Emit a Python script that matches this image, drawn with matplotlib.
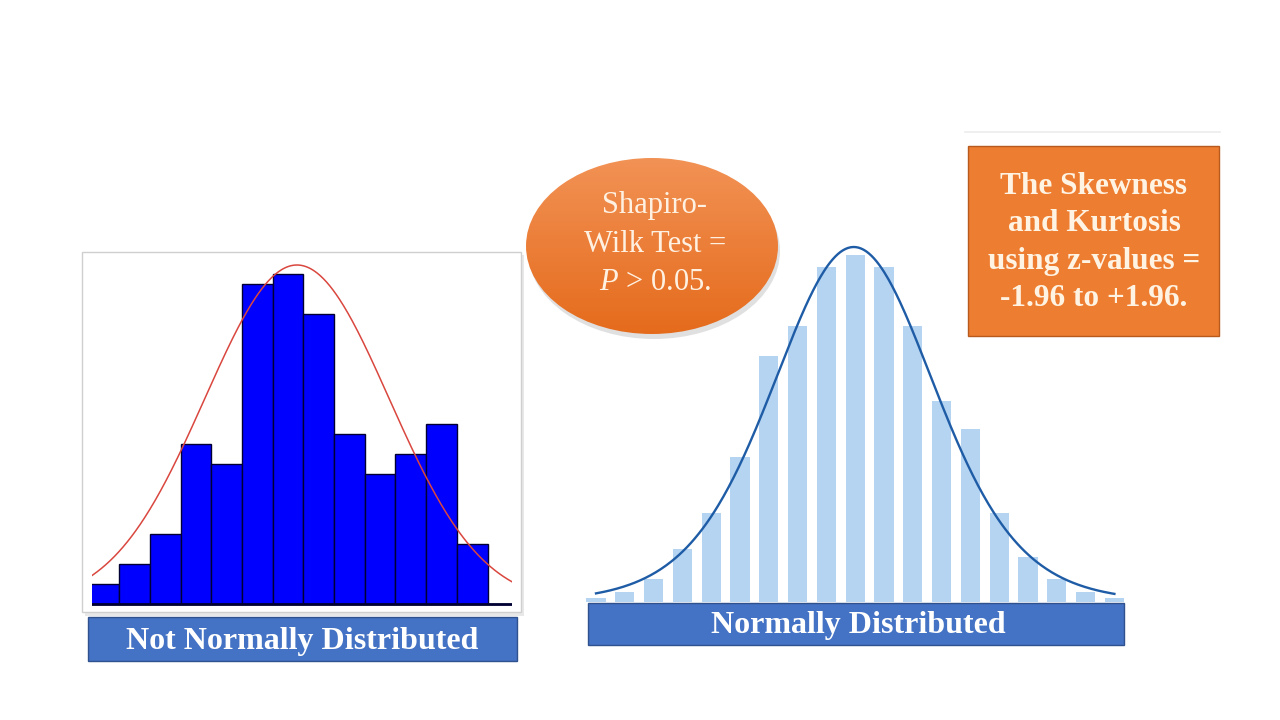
import numpy as np
import matplotlib
matplotlib.use("Agg")
import matplotlib.pyplot as plt
from matplotlib.patches import Rectangle, Ellipse

plt.rcParams['font.family'] = ['Liberation Serif', 'DejaVu Serif']
plt.rcParams['mathtext.fontset'] = 'custom'
plt.rcParams['mathtext.rm'] = 'Liberation Serif'
plt.rcParams['mathtext.it'] = 'Liberation Serif:italic'

# ---------------- data ----------------
# Left: not normally distributed histogram (counts per bin)
left_counts = [2, 4, 7, 16, 14, 32, 33, 29, 17, 13, 15, 18, 6, 0]
left_fit_mean = 6.79
left_fit_sd = 3.0
left_fit_peak = 33.9

# Right: normally distributed histogram (frequencies per bin)
right_counts = [4, 10, 23, 53, 89, 145, 246, 276, 335, 347, 335, 276, 201, 173, 89, 45, 23, 10, 4]
right_fit_center = 8.95
right_fit_scale = 2.88
right_fit_df = 10
right_fit_peak = 355

label_left = "Not Normally Distributed"
label_right = "Normally Distributed"
ellipse_lines = ["Shapiro-", "Wilk Test =", "$P$ > 0.05."]
box_lines = ["The Skewness", "and Kurtosis", "using z-values =", "-1.96 to +1.96."]

# ---------------- figure ----------------
W, H = 1280, 720
fig = plt.figure(figsize=(12.8, 7.2), dpi=100)
fig.patch.set_facecolor('white')

def px_axes(x0, y0, x1, y1, **kw):
    """axes by pixel box (top-left origin)"""
    return fig.add_axes([x0 / W, 1 - y1 / H, (x1 - x0) / W, (y1 - y0) / H], **kw)

# overlay in pixel coordinates (background layer)
bg = px_axes(0, 0, W, H, zorder=0)
bg.set_xlim(0, W); bg.set_ylim(H, 0); bg.axis('off')

# left frame with shadow
bg.add_patch(Rectangle((85, 255), 439, 361, facecolor='#d9d9d9', edgecolor='none', alpha=0.6))
bg.add_patch(Rectangle((82, 252), 439, 360, facecolor='white', edgecolor='#cfcfcf', lw=1.0))
# faint line top right
bg.plot([965, 1220], [132, 132], color='#ececec', lw=1.2)

# ---------------- left histogram ----------------
axL = px_axes(92, 255, 512, 606, zorder=2)
xL = np.arange(len(left_counts))
axL.bar(xL, left_counts, width=1.0, align='edge', color='#0000FF',
        edgecolor='#000033', linewidth=1.0)
axL.axhline(0, color='#000033', lw=2)
xs = np.linspace(0.0, len(left_counts), 400)
axL.plot(xs, left_fit_peak * np.exp(-(xs - left_fit_mean) ** 2 / (2 * left_fit_sd ** 2)),
         color='#D9473F', lw=1.1)
axL.set_xlim((92 - 88.5) / 30.7, (512 - 88.5) / 30.7)
axL.set_ylim(-0.2, 34.9)
axL.axis('off')

# ---------------- right histogram ----------------
axR = px_axes(585, 240, 1125, 602, zorder=2)
xR = np.arange(len(right_counts))
axR.bar(xR, right_counts, width=0.66, color='#B5D4F2', edgecolor='none')
xs = np.linspace(0, len(right_counts) - 1, 400)
yc = right_fit_peak * (1 + ((xs - right_fit_center) / right_fit_scale) ** 2 / right_fit_df) ** (-(right_fit_df + 1) / 2)
axR.plot(xs, yc, color='#1F5CA6', lw=1.7)
axR.set_xlim((585 - 596) / 28.8, (1125 - 596) / 28.8)
axR.set_ylim(0, 362)
axR.axis('off')

# ---------------- foreground overlay ----------------
fg = px_axes(0, 0, W, H, zorder=5)
fg.set_xlim(0, W); fg.set_ylim(H, 0); fg.axis('off')
fg.patch.set_alpha(0)

# label boxes
fg.add_patch(Rectangle((88, 617), 429, 44, facecolor='#4472C4', edgecolor='#2F528F', lw=1))
fg.text(302, 641, label_left, color='white', fontsize=23, fontweight='bold',
        ha='center', va='center')
fg.add_patch(Rectangle((588, 603), 536, 42, facecolor='#4472C4', edgecolor='#2F528F', lw=1))
fg.text(858, 626, label_right, color='white', fontsize=23, fontweight='bold',
        ha='center', va='center')

# ellipse with gradient + shadow
ecx, ecy, ew, eh = 652, 246, 252, 176
fg.add_patch(Ellipse((ecx + 2, ecy + 5), ew, eh, facecolor='#9a9a9a', edgecolor='none', alpha=0.3))
ell = Ellipse((ecx, ecy), ew, eh, facecolor='none', edgecolor='none')
fg.add_patch(ell)
grad = np.linspace(0, 1, 256)[:, None]
c_top = np.array([0xF2, 0x92, 0x55]) / 255
c_bot = np.array([0xE5, 0x6B, 0x1C]) / 255
img = (c_top[None, None, :] * (1 - grad[..., None]) + c_bot[None, None, :] * grad[..., None])
img = np.repeat(img, 4, axis=1)
im = fg.imshow(img, extent=(ecx - ew / 2, ecx + ew / 2, ecy + eh / 2, ecy - eh / 2),
               aspect='auto', zorder=3, interpolation='bilinear')
im.set_clip_path(ell)
fg.set_xlim(0, W); fg.set_ylim(H, 0)
for i, line in enumerate(ellipse_lines):
    fg.text(655, 206 + i * 38.5, line, color='#FFF1E2', fontsize=22,
            ha='center', va='center', zorder=4)

# orange box
fg.add_patch(Rectangle((968, 146), 251, 190, facecolor='#ED7D31', edgecolor='#B85A1E', lw=1, zorder=3))
for i, line in enumerate(box_lines):
    fg.text(1094, 186 + i * 37.5, line, color='#FFF3E3', fontsize=22.5, fontweight='bold',
            ha='center', va='center', zorder=4)

fig.savefig('out.png', dpi=100, facecolor='white')
